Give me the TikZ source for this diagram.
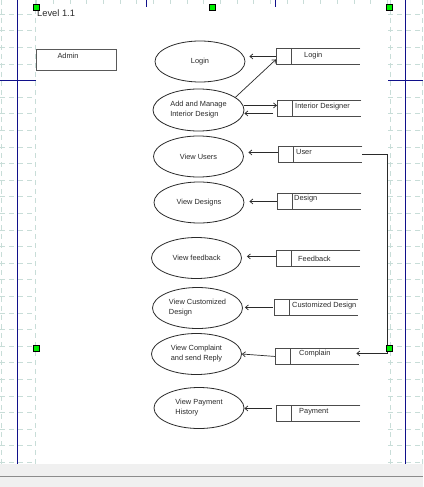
\documentclass[tikz,border=0pt]{standalone}
\usepackage{fontspec}
\setmainfont{Liberation Sans}
\usetikzlibrary{shapes.geometric,arrows.meta}
\definecolor{gridc}{HTML}{C8DDD8}
\definecolor{pagec}{HTML}{10108A}
\definecolor{handlec}{HTML}{00F000}
\definecolor{inkc}{HTML}{2A2A2A}
\tikzset{
  process/.style={ellipse,draw=inkc,line width=0.8pt,minimum width=90pt,minimum height=41pt,inner sep=0pt,align=left},
  store/.style={anchor=north west,minimum width=84pt,minimum height=16.5pt,inner sep=0pt},
  storeline/.style={draw=black!70,line width=0.9pt},
  flow/.style={-{Straight Barb[length=3pt,width=5pt]},draw=inkc,line width=0.7pt},
  handlebox/.style={draw=black,fill=handlec,line width=0.6pt,minimum size=6pt,inner sep=0pt}
}
\begin{document}
\begin{tikzpicture}[x=1pt,y=-1pt,every node/.style={font=\fontsize{7.4}{10}\selectfont,text=inkc}]
\useasboundingbox (0,0) rectangle (423,487);
% background and grid
\fill[white] (0,0) rectangle (423,487);
\foreach \y in {14,30.6,...,464}{%
	\draw[gridc,dash pattern=on 5pt off 4pt] (0,\y) -- (36,\y);
	\draw[gridc,dash pattern=on 5pt off 4pt] (388,\y) -- (423,\y);
	}
\foreach \x in {1,35,390,422}
	\draw[gridc,dash pattern=on 5pt off 4pt] (\x,0) -- (\x,464);
\foreach \x in {36.4,53.1,...,388}
	\draw[gridc] (\x,0) -- (\x,4);
\fill[white] (36,7) rectangle (388,464);
\draw[pagec,line width=0.8pt] (17,0) -- (17,464);
\draw[pagec,line width=0.8pt] (405,0) -- (405,464);
\draw[pagec,line width=0.8pt] (0,80) -- (36,80);
\draw[pagec,line width=0.8pt] (388,80) -- (423,80);
\draw[pagec,line width=0.8pt] (146,0) -- (146,7);
\draw[pagec,line width=0.8pt] (275,0) -- (275,7);
\fill[black!6] (0,464) rectangle (423,487);
\draw[black!45,line width=1.5pt] (0,476.5) -- (423,476.5);
% entity and processes
\node[anchor=west,inner sep=0pt,font=\fontsize{9.3}{11}\selectfont] (level) at (37,13) {Level 1.1};
\node[draw=black!65,line width=0.9pt,minimum width=80pt,minimum height=21pt,inner sep=0pt] (admin) at (76,59.5) {};
\node[inner sep=0pt] (admin-t) at (68,56) {Admin};
\node[process] (login) at (200,61.5) {Login};
\node[process,minimum width=91pt,minimum height=42pt] (manage) at (198.5,110) {Add and Manage\\Interior Design};
\node[process] (users) at (198.5,156.5) {View Users};
\node[process] (designs) at (199,202.5) {View Designs};
\node[process] (feedback) at (196.5,258) {View feedback};
\node[process] (custom) at (197.5,308) {View Customized\\Design};
\node[process] (complaint) at (196.5,354) {View Complaint\\and send Reply};
\node[process] (payment) at (199,408) {View Payment\\History};
% data stores
\foreach \nm/\sx/\sy/\dx/\dy/\txt in {slogin/276/48/28/8/Login,
		sinterior/277/100/18/7/Interior Designer,
		suser/278/146/18/6/User,
		sdesign/277/193/17/6/Design,
		sfeedback/276/250/22/9/Feedback,
		scustom/274/299/18/7/Customized Design,
		scomplain/275/348/24/6/Complain,
		spayment/276/405/23/7/Payment}{%
	\node[store] (\nm) at (\sx,\sy) {};
	\draw[storeline] (\nm.north east) -- (\nm.north west) -- (\nm.south west) -- (\nm.south east);
	\draw[storeline] ([xshift=15pt]\nm.north west) -- ([xshift=15pt]\nm.south west);
	\node[anchor=west,inner sep=0pt] (\nm-t) at (\sx+\dx,\sy+\dy) {\txt};
	}
% flows
\draw[flow,shorten >=4pt] (slogin.west) -- (slogin.west -| login.east);
\draw[flow] (manage.19) -- ([yshift=-3pt]slogin.west);
\coordinate (a1) at ([yshift=3pt]sinterior.west);
\draw[flow] (a1 -| manage.east) -- (a1);
\coordinate (a2) at ([xshift=-4pt,yshift=-5pt]sinterior.west);
\draw[flow] (a2) -- (a2 -| manage.east);
\coordinate (a3) at ([yshift=2pt]suser.west);
\draw[flow,shorten >=4.5pt] (a3) -- (a3 -| users.east);
\draw[flow,shorten >=-3pt] (suser.east) -- ++(25,0) |- ([yshift=3pt]scomplain.east);
\draw[flow,shorten >=5pt] (sdesign.west) -- (sdesign.west -| designs.east);
\coordinate (a4) at ([yshift=2pt]sfeedback.west);
\draw[flow,shorten >=5pt] (a4) -- (a4 -| feedback.east);
\coordinate (a5) at ([xshift=-1pt]scustom.west);
\draw[flow,shorten >=2pt] (a5) -- (a5 -| custom.east);
\draw[flow] (scomplain.west) -- (complaint.east);
\coordinate (a6) at ([xshift=-4pt,yshift=5pt]spayment.west);
\draw[flow] (a6) -- (a6 -| payment.east);
% selection handles
\foreach \hx/\hy [count=\i] in {36/7,212/7,389/7,36/348,389/348}
	\node[handlebox] (h\i) at (\hx,\hy) {};
\end{tikzpicture}
\end{document}
